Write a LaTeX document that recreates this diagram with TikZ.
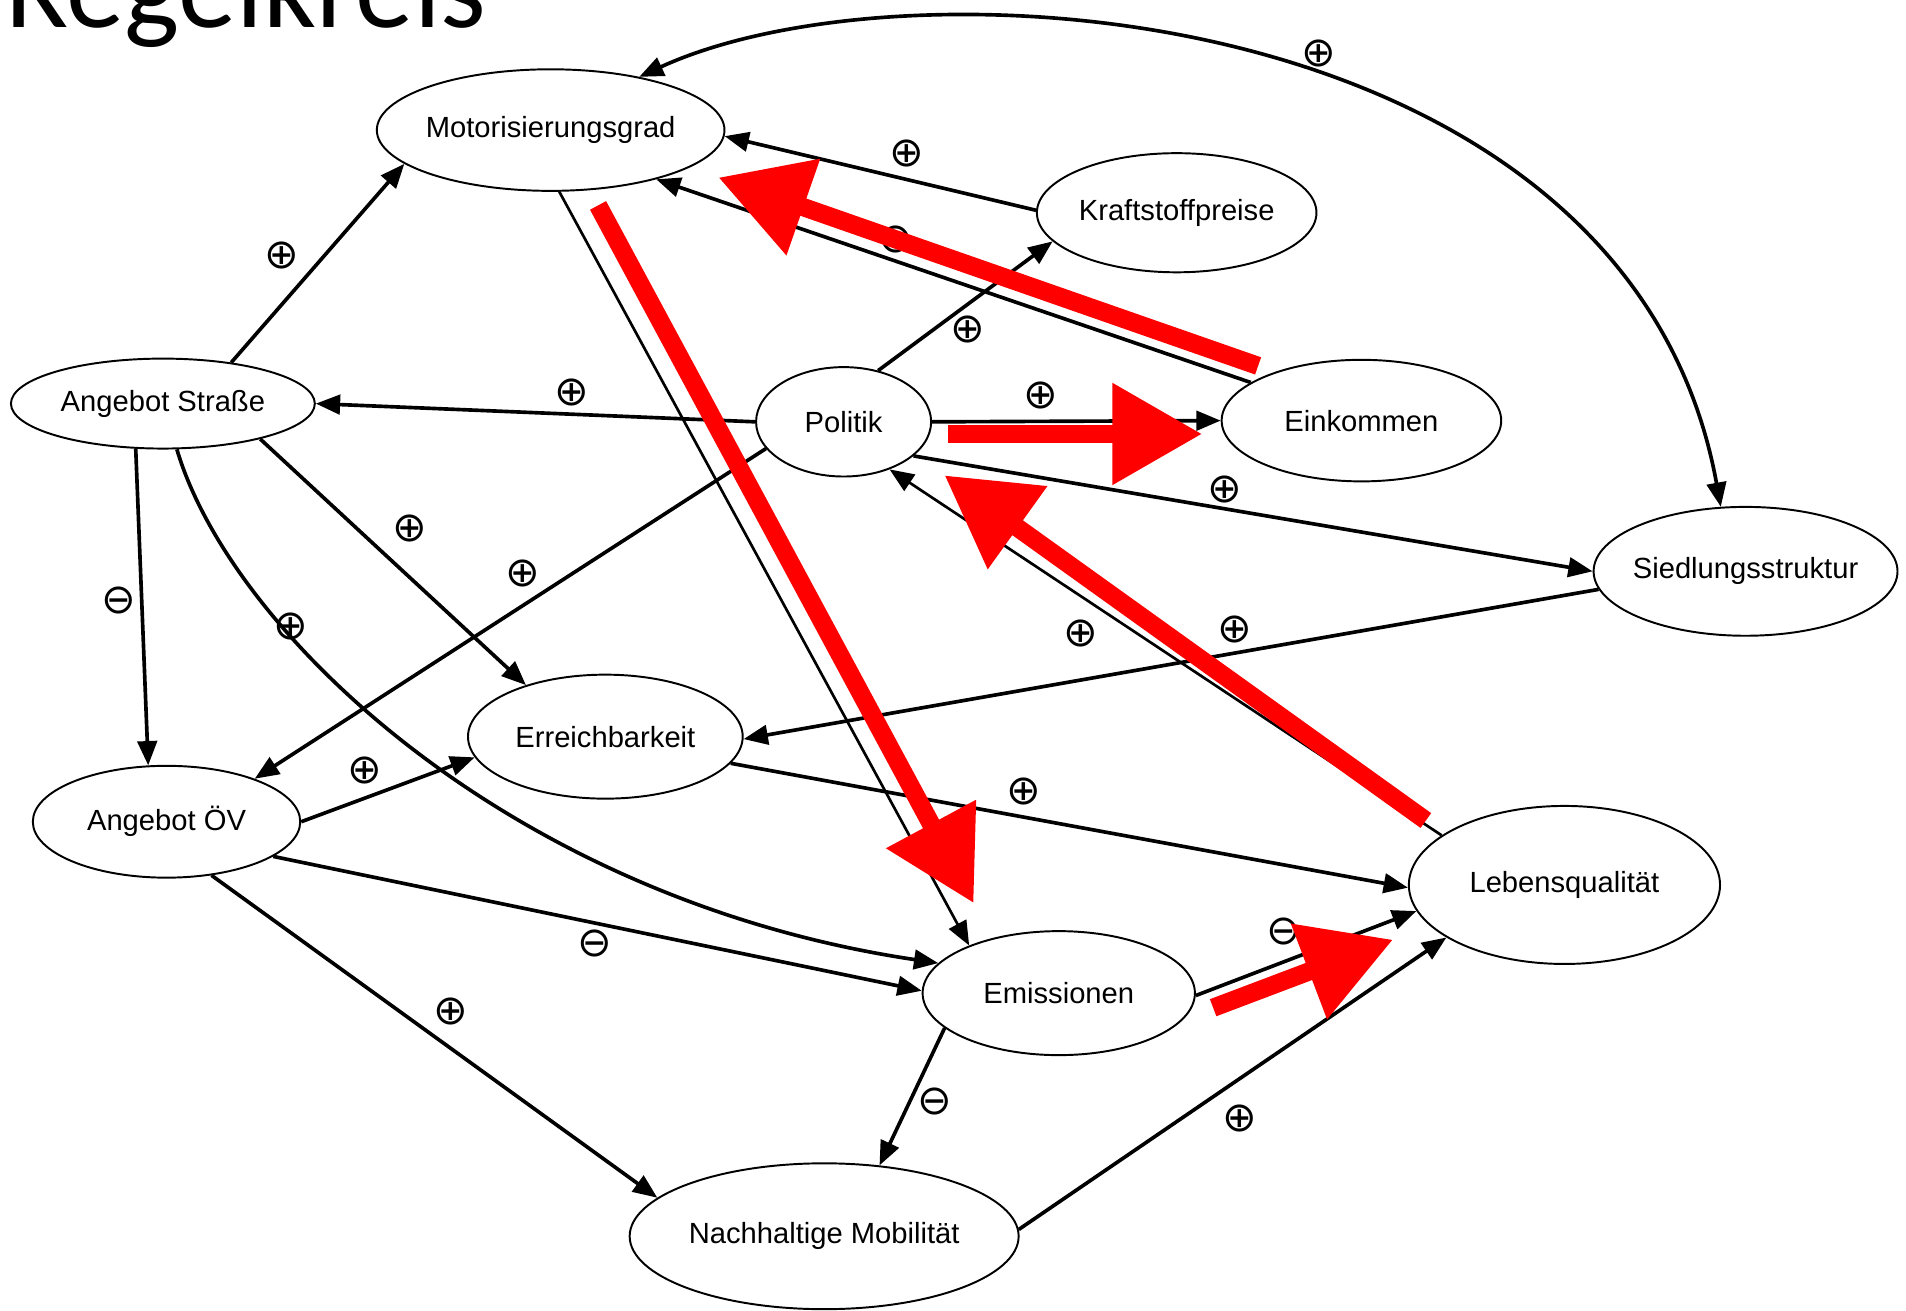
\documentclass[tikz,border=0pt]{standalone}
\usepackage{fontspec}
\setmainfont{Liberation Sans}
\newfontfamily\titlefont{Carlito}
\newfontfamily\symfont{DejaVu Sans}
\usetikzlibrary{shapes.geometric,arrows.meta}
\begin{document}
\begin{tikzpicture}[x=0.5pt,y=-0.5pt,
  box/.style={draw,ellipse,line width=0.8pt,inner sep=0pt,inner xsep=-4pt,font=\fontsize{12}{14}\selectfont},
  wire/.style={line width=1.5pt,-{Triangle[length=10pt,width=8pt]}},
  sign/.style={inner sep=0pt,font=\symfont\fontsize{17}{17}\selectfont},
  hint/.style={red,line width=7.5pt,-{Triangle[length=37pt,width=40pt]}}]
\useasboundingbox (0,0) rectangle (1568,1078.5);
\node[anchor=base west,inner sep=0pt,font=\titlefont\fontsize{48}{48}\selectfont] (title) at (4,22.5) {Regelkreis};
% Knoten
\node[box,minimum width=143pt,minimum height=50pt] (mot) at (453,107) {Motorisierungsgrad};
\node[box,minimum width=115pt,minimum height=49pt] (kraft) at (968,175) {Kraftstoffpreise};
\node[box,minimum width=125pt,minimum height=37pt] (astr) at (134,332) {Angebot Straße};
\node[box,minimum width=72pt,minimum height=45pt] (pol) at (694,347) {Politik};
\node[box,minimum width=115pt,minimum height=50pt] (eink) at (1120,346) {Einkommen};
\node[box,minimum width=125pt,minimum height=53pt] (sied) at (1436,470) {Siedlungsstruktur};
\node[box,minimum width=113pt,minimum height=51pt] (err) at (498,606) {Erreichbarkeit};
\node[box,minimum width=110pt,minimum height=46pt] (aoev) at (137,676) {Angebot ÖV};
\node[box,minimum width=128pt,minimum height=65pt] (leb) at (1287,728) {Lebensqualität};
\node[box,minimum width=112pt,minimum height=51pt] (emi) at (871,817) {Emissionen};
\node[box,minimum width=160pt,minimum height=60pt] (nach) at (678,1017) {Nachhaltige Mobilität};
% Wirkungen
\draw[wire] (astr.31) -- (mot.193);
\draw[wire] (kraft.179) -- (mot.358);
\draw[wire] (eink.161) -- (mot.335);
\draw[wire] (pol.56) -- (kraft.193);
\draw[wire] (pol.180) -- (astr.0);
\draw[wire] (pol.0) -- (eink.180);
\draw[wire] (pol.334) -- (sied.180);
\draw[wire,line width=1.1pt] (leb.158) -- (pol.314);
\draw[wire] (sied.187) -- (err.359);
\draw[wire] (pol.199) -- (aoev.26);
\draw[wire,line width=1.1pt] (mot.278) -- (emi.152);
\draw[wire] (astr.340) -- (err.147);
\draw[wire] (astr.239) -- (aoev.108);
\draw[wire] (astr.287) .. controls (190,520) and (420,740) .. (emi.166);
\draw[wire] (aoev.0) -- (err.189);
\draw[wire] (err.348) -- (leb.181);
\draw[wire] (aoev.342) -- (emi.179);
\draw[wire] (aoev.310) -- (nach.167);
\draw[wire] (emi.197) -- (nach.52);
\draw[wire] (emi.359) -- (leb.190);
\draw[wire] (nach.2) -- (leb.204);
\draw[wire,{Triangle[length=10pt,width=8pt]}-{Triangle[length=10pt,width=8pt]}] (mot.31) .. controls (750,-40) and (1340,0) .. (sied.111);
% Vorzeichen
\node[sign] (sa) at (232,210) {⊕};
\node[sign] (sb) at (746,126) {⊕};
\node[sign] (sc) at (737,197) {⊖};
\node[sign] (sd) at (796,271) {⊕};
\node[sign] (se) at (470,323) {⊕};
\node[sign] (sf) at (856,325) {⊕};
\node[sign] (sg) at (1008,403) {⊕};
\node[sign] (sh) at (889,521) {⊕};
\node[sign] (si) at (1016,518) {⊕};
\node[sign] (sj) at (430,472) {⊕};
\node[sign] (sl) at (337,435) {⊕};
\node[sign] (sm) at (98,494) {⊖};
\node[sign] (sn) at (239,515) {⊕};
\node[sign] (so) at (300,634) {⊕};
\node[sign] (sp) at (842,651) {⊕};
\node[sign] (sq) at (489,776) {⊖};
\node[sign] (sr) at (371,832) {⊕};
\node[sign] (ss) at (769,906) {⊖};
\node[sign] (st) at (1056,766) {⊖};
\node[sign] (su) at (1020,920) {⊕};
\node[sign] (sv) at (1085,44) {⊕};
% rote Pfeile
\coordinate (r1a) at (1035,301); \coordinate (r1b) at (591,146);
\coordinate (r2a) at (492,169); \coordinate (r2b) at (801,743);
\coordinate (r3a) at (780,357); \coordinate (r3b) at (989,357);
\coordinate (r4a) at (1173,675); \coordinate (r4b) at (777,391);
\coordinate (r5a) at (998,829); \coordinate (r5b) at (1146,773);
\draw[hint] (r1a) -- (r1b);
\draw[hint] (r2a) -- (r2b);
\draw[hint] (r3a) -- (r3b);
\draw[hint] (r4a) -- (r4b);
\draw[hint] (r5a) -- (r5b);
\end{tikzpicture}
\end{document}
